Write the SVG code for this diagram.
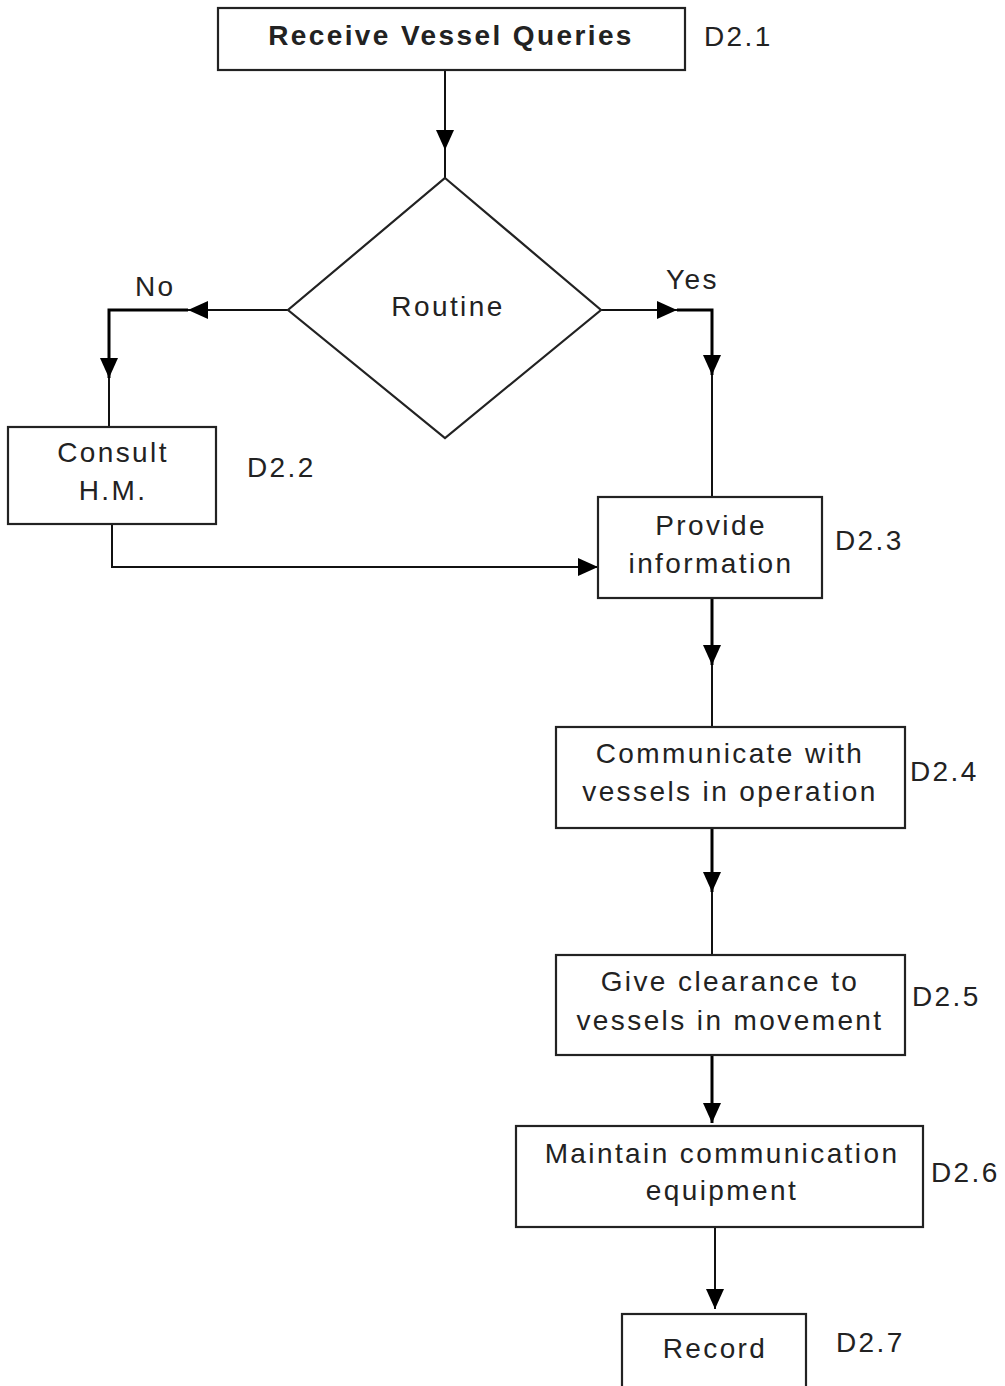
<svg xmlns="http://www.w3.org/2000/svg" width="1005" height="1386" viewBox="0 0 1005 1386">
<defs>
<marker id="ah" markerUnits="userSpaceOnUse" markerWidth="20" markerHeight="18" viewBox="0 0 20 18" refX="20" refY="9" orient="auto">
<path d="M0,0 L20,9 L0,18 z" fill="#000"/>
</marker>
</defs>
<style>
.box{fill:#fff;stroke:#222;stroke-width:2.2}
.t{font-family:"Liberation Sans",Arial,sans-serif;font-size:28px;fill:#222;letter-spacing:2.4px;text-anchor:middle}
.lbl{font-family:"Liberation Sans",Arial,sans-serif;font-size:28px;fill:#222;letter-spacing:2.4px}
.c{fill:none;stroke:#111;stroke-width:2}
.ck{fill:none;stroke:#000;stroke-width:3}
</style>
<rect width="1005" height="1386" fill="#fff"/>
<g id="connectors">
<path class="c" d="M445,70 V150" marker-end="url(#ah)"/>
<path class="c" d="M445,150 V178"/>
<path class="c" d="M288,310 H188" marker-end="url(#ah)"/>
<path class="ck" d="M188,310 H109 V378" marker-end="url(#ah)"/>
<path class="c" d="M109,378 V427"/>
<path class="c" d="M601,310 H677" marker-end="url(#ah)"/>
<path class="ck" d="M677,310 H712 V375" marker-end="url(#ah)"/>
<path class="c" d="M712,375 V497"/>
<path class="c" d="M112,524 V567 H598" marker-end="url(#ah)"/>
<path class="ck" d="M712,598 V665" marker-end="url(#ah)"/>
<path class="c" d="M712,665 V727"/>
<path class="ck" d="M712,828 V892" marker-end="url(#ah)"/>
<path class="c" d="M712,892 V955"/>
<path class="ck" d="M712,1055 V1123" marker-end="url(#ah)"/>
<path class="c" d="M715,1227 V1309" marker-end="url(#ah)"/>
</g>
<g id="d21">
<rect class="box" x="218" y="8" width="467" height="62"/>
<text class="t" x="451" y="45" font-weight="bold">Receive Vessel Queries</text>
<text class="lbl" x="704" y="46">D2.1</text>
</g>
<g id="routine">
<polygon class="box" stroke-width="2" points="445,178 601,310 445,438 288,310"/>
<text class="t" x="448" y="316">Routine</text>
</g>
<g id="labels">
<text class="lbl" x="135" y="296">No</text>
<text class="lbl" x="666" y="289">Yes</text>
</g>
<g id="d22">
<rect class="box" x="8" y="427" width="208" height="97"/>
<text class="t" x="113" y="462">Consult</text>
<text class="t" x="113" y="500">H.M.</text>
<text class="lbl" x="247" y="477">D2.2</text>
</g>
<g id="d23">
<rect class="box" x="598" y="497" width="224" height="101"/>
<text class="t" x="711" y="535">Provide</text>
<text class="t" x="711" y="573">information</text>
<text class="lbl" x="835" y="550">D2.3</text>
</g>
<g id="d24">
<rect class="box" x="556" y="727" width="349" height="101"/>
<text class="t" x="730" y="763">Communicate with</text>
<text class="t" x="730" y="801">vessels in operation</text>
<text class="lbl" x="910" y="781">D2.4</text>
</g>
<g id="d25">
<rect class="box" x="556" y="955" width="349" height="100"/>
<text class="t" x="730" y="991">Give clearance to</text>
<text class="t" x="730" y="1030">vessels in movement</text>
<text class="lbl" x="912" y="1006">D2.5</text>
</g>
<g id="d26">
<rect class="box" x="516" y="1126" width="407" height="101"/>
<text class="t" x="722" y="1163">Maintain communication</text>
<text class="t" x="722" y="1200">equipment</text>
<text class="lbl" x="931" y="1182">D2.6</text>
</g>
<g id="d27">
<rect class="box" x="622" y="1314" width="184" height="90"/>
<text class="t" x="715" y="1358">Record</text>
<text class="lbl" x="836" y="1352">D2.7</text>
</g>
</svg>
